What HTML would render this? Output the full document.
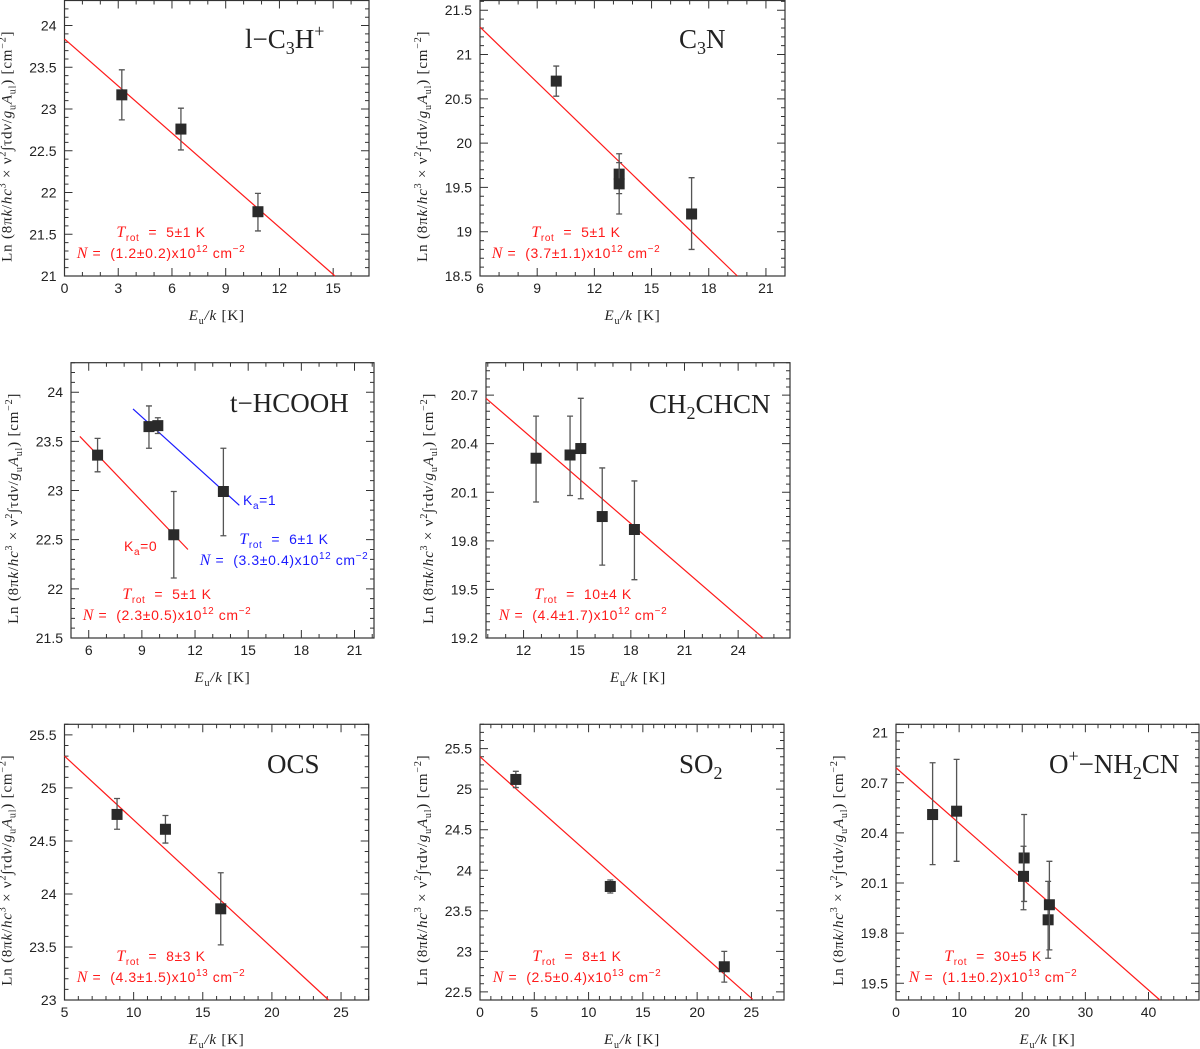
<!DOCTYPE html>
<html><head><meta charset="utf-8"><style>
html,body{margin:0;padding:0;background:#fff;}
svg{display:block;font-family:"Liberation Sans",sans-serif;}
.tl{font-size:14px;fill:#222;}
.ttl{font-family:"Liberation Serif",serif;font-size:27px;fill:#222;}
.ax{font-family:"Liberation Serif",serif;font-size:15px;fill:#222;letter-spacing:0.8px;}
.ann{font-size:14px;letter-spacing:0.6px;}
</style></head><body>
<svg id="fig" width="1200" height="1049" viewBox="0 0 1200 1049" xmlns="http://www.w3.org/2000/svg"></svg>
<script>
// ---- data (Eu/k [K], ln value, err upper, err lower) ----
const p1X=[3.2,6.5,10.8], p1Y=[23.17,22.76,21.77], p1Hi=[23.47,23.01,21.99], p1Lo=[22.87,22.51,21.54];
const p1LineX=[0,15.1], p1LineY=[23.84,21.0];
const p2X=[10,13.3,13.3,17.1], p2Y=[20.7,19.65,19.54,19.2], p2Hi=[20.87,19.88,19.78,19.61], p2Lo=[20.53,19.43,19.2,18.8];
const p2LineX=[6,19.5], p2LineY=[21.31,18.5];
const p3rX=[6.5,10.8], p3rY=[23.36,22.55], p3rHi=[23.53,22.99], p3rLo=[23.19,22.11];
const p3rLineX=[5.5,11.6], p3rLineY=[23.55,22.4];
const p3bX=[9.4,9.9,13.6], p3bY=[23.65,23.66,22.99], p3bHi=[23.86,23.74,23.43], p3bLo=[23.43,23.58,22.54];
const p3bLineX=[8.5,14.5], p3bLineY=[23.83,22.85];
const p4X=[12.7,14.6,15.2,16.4,18.2], p4Y=[20.31,20.33,20.37,19.95,19.87], p4Hi=[20.57,20.57,20.68,20.25,20.17], p4Lo=[20.04,20.08,20.06,19.65,19.56];
const p4LineX=[9.9,25.4], p4LineY=[20.68,19.2];
const p5X=[8.8,12.3,16.3], p5Y=[24.75,24.61,23.86], p5Hi=[24.9,24.74,24.2], p5Lo=[24.61,24.48,23.52];
const p5LineX=[5,24.1], p5LineY=[25.3,23.0];
const p6X=[3.3,12,22.5], p6Y=[25.12,23.8,22.81], p6Hi=[25.22,23.88,23.0], p6Lo=[25.02,23.72,22.62];
const p6LineX=[0,25.1], p6LineY=[25.4,22.41];
const p7X=[5.8,9.6,20.3,20.2,24.1,24.3], p7Y=[20.51,20.53,20.25,20.14,19.88,19.97], p7Hi=[20.82,20.84,20.51,20.32,20.11,20.23], p7Lo=[20.21,20.23,19.99,19.94,19.65,19.7];
const p7LineX=[0,41.8], p7LineY=[20.79,19.4];

const NS="http://www.w3.org/2000/svg";
const svg=document.getElementById('fig');
function mk(tag,attrs,parent){const e=document.createElementNS(NS,tag);for(const k in attrs)e.setAttribute(k,attrs[k]);(parent||svg).appendChild(e);return e;}

function panel(cfg){
  const g=mk('g',{});
  
  
  const [L,T,R,B]=cfg.box;
  const sx=v=>L+(v-cfg.x[0])/(cfg.x[1]-cfg.x[0])*(R-L);
  const sy=v=>B-(v-cfg.y[0])/(cfg.y[1]-cfg.y[0])*(B-T);
  const frame=mk('rect',{x:L,y:T,width:R-L,height:B-T,fill:'none',stroke:'#333','stroke-width':1.2},g);
  
  
  let d='';
  const eps=1e-6;
  for(let v=Math.ceil((cfg.x[0]-eps)/cfg.xmin)*cfg.xmin; v<=cfg.x[1]+eps; v+=cfg.xmin){
    const isMaj=Math.abs(v/cfg.xmaj-Math.round(v/cfg.xmaj))<1e-4;
    const len=isMaj?8:4, px=sx(v);
    d+=`M${px},${B}v${-len}M${px},${T}v${len}`;
    if(isMaj && px<R-3){const t=mk('text',{x:px,y:B+17,'text-anchor':'middle',class:'tl'},g);t.textContent=String(+v.toFixed(2));
      }
  }
  for(let v=Math.ceil((cfg.y[0]-eps)/cfg.ymin)*cfg.ymin; v<=cfg.y[1]+eps; v+=cfg.ymin){
    const isMaj=Math.abs(v/cfg.ymaj-Math.round(v/cfg.ymaj))<1e-4;
    const len=isMaj?8:4, py=sy(v);
    d+=`M${L},${py}h${len}M${R},${py}h${-len}`;
    if(isMaj){const t=mk('text',{x:L-8,y:py+5,'text-anchor':'end',class:'tl'},g);t.textContent=String(+v.toFixed(2));
      }
  }
  const tk=mk('path',{d:d,stroke:'#333','stroke-width':1,fill:'none'},g);
  
  
  const xt=mk('text',{x:(L+R)/2,y:B+44,'text-anchor':'middle',class:'ax'},g);
  
  
  xt.innerHTML='<tspan font-style="italic">E</tspan><tspan font-size="10" dy="4">u</tspan><tspan dy="-4" font-style="italic">/k</tspan> [K]';
  const cy=(T+B)/2+8, cx=L-53;
  const yt=mk('text',{x:cx,y:cy,'text-anchor':'middle',class:'ax',transform:`rotate(-90 ${cx} ${cy})`},g);
  
  
  yt.innerHTML='Ln (8π<tspan font-style="italic">k</tspan>/<tspan font-style="italic">hc</tspan><tspan font-size="10" dy="-6">3</tspan><tspan dy="6">&#160;×&#160;ν</tspan><tspan font-size="10" dy="-6">2</tspan><tspan dy="6">∫τd</tspan><tspan font-style="italic">v</tspan>/<tspan font-style="italic">g</tspan><tspan font-size="10" dy="4">u</tspan><tspan dy="-4" font-style="italic">A</tspan><tspan font-size="10" dy="4">ul</tspan><tspan dy="-4">)&#160;[cm</tspan><tspan font-size="10" dy="-6">−2</tspan><tspan dy="6">]</tspan>';
  const tt=mk('text',{x:cfg.tx,y:cfg.ty,class:'ttl'},g);
  
  
  tt.innerHTML=cfg.title;
  cfg.series.forEach(s=>{
    const ln=mk('line',{x1:sx(s.lx[0]),y1:sy(s.ly[0]),x2:sx(s.lx[1]),y2:sy(s.ly[1]),stroke:s.color,'stroke-width':1.2},g);
    
    
    s.xs.forEach((xv,i)=>{
      const px=sx(xv);
      const eb=mk('path',{d:`M${px},${sy(s.hi[i])}V${sy(s.lo[i])}M${px-3},${sy(s.hi[i])}h6M${px-3},${sy(s.lo[i])}h6`,stroke:'#555','stroke-width':1.3,fill:'none'},g);
      
      
      const pt=mk('rect',{x:px-5.5,y:sy(s.ys[i])-5.5,width:11,height:11,fill:'#2a2a2a'},g);
      
      
    });
  });
  cfg.ann.forEach(a=>{
    const t1=mk('text',{x:a.x,y:a.y,'text-anchor':'middle',class:'ann',fill:a.color},g);
    
    
    t1.innerHTML=`<tspan font-family="Liberation Serif" font-style="italic" font-size="16">T</tspan><tspan font-size="10" dy="4">rot</tspan><tspan dy="-4">&#160;&#160;=&#160;&#160;${a.t}</tspan>`;
    const t2=mk('text',{x:a.x,y:a.y+21,'text-anchor':'middle',class:'ann',fill:a.color},g);
    
    
    t2.innerHTML=`<tspan font-family="Liberation Serif" font-style="italic" font-size="16">N</tspan>&#160;=&#160;&#160;${a.n}x10<tspan font-size="10" dy="-6">${a.e}</tspan><tspan dy="6">&#160;cm</tspan><tspan font-size="10" dy="-6">−2</tspan>`;
  });
  (cfg.labels||[]).forEach(l=>{
    const t=mk('text',{x:l.x,y:l.y,class:'ann',fill:l.color},g);
    
    
    t.innerHTML='K<tspan font-size="10" dy="4">a</tspan><tspan dy="-4">='+l.v+'</tspan>';
  });
}
const RED='#ff1a1a', BLUE='#1a1aff';
panel({name:'l-c3h-plus',box:[64.5,0.5,369,276],x:[0,17],y:[21,24.3],xmaj:3,xmin:1,ymaj:0.5,ymin:0.1,
  tx:245,ty:48,title:'l−C<tspan font-size="18" dy="6">3</tspan><tspan dy="-6">H</tspan><tspan font-size="18" dy="-11">+</tspan>',
  series:[{xs:p1X,ys:p1Y,hi:p1Hi,lo:p1Lo,lx:p1LineX,ly:p1LineY,color:RED}],
  ann:[{x:161,y:237,t:'5±1 K',n:'(1.2±0.2)',e:'12',color:RED}]});
panel({name:'c3n',box:[480,0.5,785,276],x:[6,22],y:[18.5,21.61],xmaj:3,xmin:1,ymaj:0.5,ymin:0.1,
  tx:679,ty:48,title:'C<tspan font-size="18" dy="6">3</tspan><tspan dy="-6">N</tspan>',
  series:[{xs:p2X,ys:p2Y,hi:p2Hi,lo:p2Lo,lx:p2LineX,ly:p2LineY,color:RED}],
  ann:[{x:576,y:237,t:'5±1 K',n:'(3.7±1.1)',e:'12',color:RED}]});
panel({name:'t-hcooh',box:[71,362.7,374,638],x:[5,22.1],y:[21.5,24.3],xmaj:3,xmin:1,ymaj:0.5,ymin:0.1,
  tx:230,ty:412,title:'t−HCOOH',
  series:[{xs:p3rX,ys:p3rY,hi:p3rHi,lo:p3rLo,lx:p3rLineX,ly:p3rLineY,color:RED},
          {xs:p3bX,ys:p3bY,hi:p3bHi,lo:p3bLo,lx:p3bLineX,ly:p3bLineY,color:BLUE}],
  ann:[{x:167,y:599,t:'5±1 K',n:'(2.3±0.5)',e:'12',color:RED},{x:284,y:544,t:'6±1 K',n:'(3.3±0.4)',e:'12',color:BLUE}],
  labels:[{x:243,y:505,v:'1',color:BLUE},{x:124,y:551,v:'0',color:RED}]});
panel({name:'ch2chcn',box:[486,362.7,790,638],x:[9.9,26.9],y:[19.2,20.9],xmaj:3,xmin:1,ymaj:0.3,ymin:0.05,
  tx:649,ty:413,title:'CH<tspan font-size="18" dy="6">2</tspan><tspan dy="-6">CHCN</tspan>',
  series:[{xs:p4X,ys:p4Y,hi:p4Hi,lo:p4Lo,lx:p4LineX,ly:p4LineY,color:RED}],
  ann:[{x:583,y:599,t:'10±4 K',n:'(4.4±1.7)',e:'12',color:RED}]});
panel({name:'ocs',box:[64.5,724.3,368.7,1000],x:[5,27],y:[23,25.6],xmaj:5,xmin:1,ymaj:0.5,ymin:0.1,
  tx:267,ty:773,title:'OCS',
  series:[{xs:p5X,ys:p5Y,hi:p5Hi,lo:p5Lo,lx:p5LineX,ly:p5LineY,color:RED}],
  ann:[{x:161,y:961,t:'8±3 K',n:'(4.3±1.5)',e:'13',color:RED}]});
panel({name:'so2',box:[480,724.3,784,1000],x:[0,28],y:[22.4,25.8],xmaj:5,xmin:1,ymaj:0.5,ymin:0.1,
  tx:679,ty:773,title:'SO<tspan font-size="18" dy="6">2</tspan>',
  series:[{xs:p6X,ys:p6Y,hi:p6Hi,lo:p6Lo,lx:p6LineX,ly:p6LineY,color:RED}],
  ann:[{x:577,y:961,t:'8±1 K',n:'(2.5±0.4)',e:'13',color:RED}]});
panel({name:'o-plus-nh2cn',box:[896,724.3,1199,1000],x:[0,48],y:[19.4,21.05],xmaj:10,xmin:2,ymaj:0.3,ymin:0.05,
  tx:1049,ty:773,title:'O<tspan font-size="18" dy="-11">+</tspan><tspan dy="11">−NH</tspan><tspan font-size="18" dy="6">2</tspan><tspan dy="-6">CN</tspan>',
  series:[{xs:p7X,ys:p7Y,hi:p7Hi,lo:p7Lo,lx:p7LineX,ly:p7LineY,color:RED}],
  ann:[{x:993,y:961,t:'30±5 K',n:'(1.1±0.2)',e:'13',color:RED}]});
</script>
</body></html>
